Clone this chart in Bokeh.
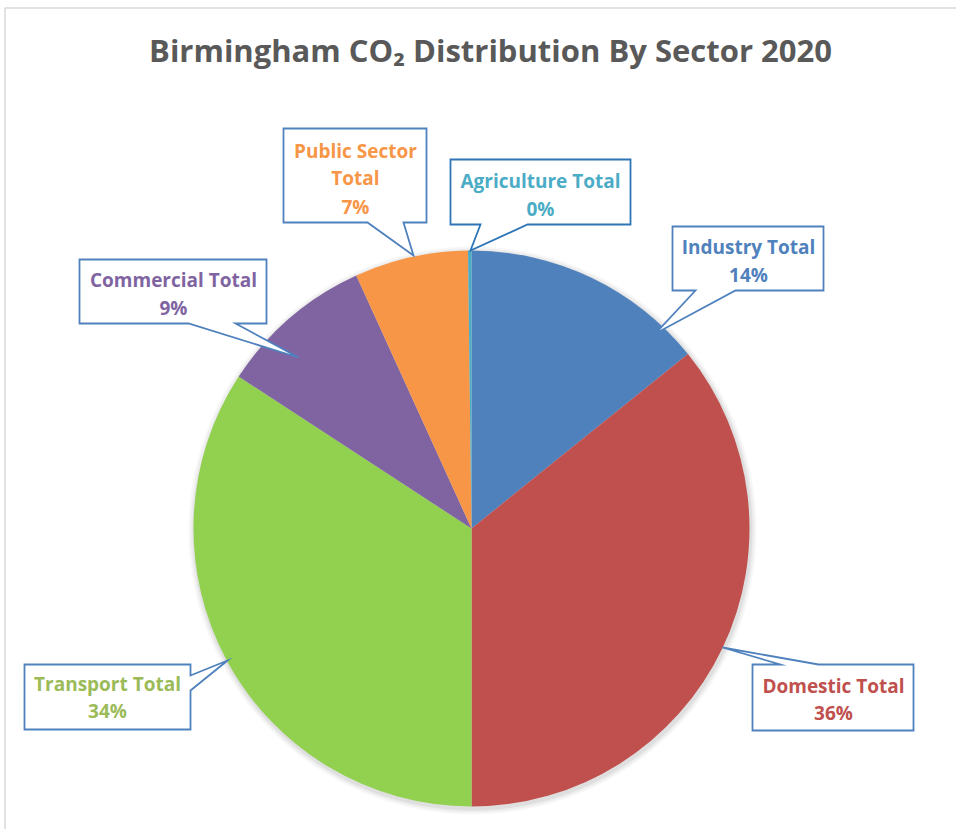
import math
from bokeh.plotting import figure
from bokeh.models import Range1d
from bokeh.core.properties import value
from bokeh.embed import file_html
from bokeh.resources import INLINE

# ---- data ----
sectors = ["Industry Total", "Domestic Total", "Transport Total",
           "Commercial Total", "Public Sector Total", "Agriculture Total"]
shares = [14.2, 35.8, 34.2, 9.0, 6.6, 0.2]
slice_colors = ["#4F81BD", "#C0504D", "#92D050", "#8064A2", "#F79646", "#4BACC6"]
text_colors = ["#4F81BD", "#C0504D", "#9BBB59", "#8064A2", "#F79646", "#4BACC6"]
title_text = "Birmingham CO\u2082 Distribution By Sector 2020"

W, H = 956, 829
IMG_H = 837


def Y(y):
    return IMG_H - y


p = figure(width=W, height=H, output_backend="svg", toolbar_location=None,
           x_range=Range1d(0, W), y_range=Range1d(Y(H), Y(0)),
           min_border=0, background_fill_color="white")
p.axis.visible = False
p.grid.visible = False
p.outline_line_color = None

# chart area border
p.quad(left=[4.5], right=[W + 5], top=[Y(7.5)], bottom=[Y(H + 5)],
       fill_color=None, line_color="#D9D9D9", line_width=1.5)

# title
p.text(x=[490], y=[Y(49)], text=[title_text], text_font=value("Open Sans"),
       text_font_style="bold", text_font_size="31px", text_color="#595959",
       text_align="center", text_baseline="middle")

cx, cy, r = 471, Y(528), 278
total = sum(shares)
starts, ends = [], []
cum = 0.0
for s in shares:
    starts.append(math.pi / 2 - 2 * math.pi * cum / total)
    cum += s
    ends.append(math.pi / 2 - 2 * math.pi * cum / total)

# soft shadow
for k, a in [(6, 0.03), (4, 0.04), (2, 0.06)]:
    p.circle(x=[cx + 1], y=[cy - 2], radius=r + k, fill_color="#000000",
             fill_alpha=a, line_color=None)

p.wedge(x=cx, y=cy, radius=r, start_angle=starts, end_angle=ends,
        direction="clock", fill_color=slice_colors, line_color=None)

# callouts (layout, image coordinates)
callouts = {
    "Industry Total": ([(672, 226), (823, 226), (823, 290), (735, 290), (655, 333), (695, 290), (672, 290)],
                       748, [246, 274], ["Industry Total"]),
    "Domestic Total": ([(752, 664), (780, 664), (722, 647), (818, 664), (913, 664), (913, 730), (752, 730)],
                       833, [685, 712], ["Domestic Total"]),
    "Transport Total": ([(24, 664), (190, 664), (190, 675), (227, 660), (190, 690), (190, 729), (24, 729)],
                        107, [683, 710], ["Transport Total"]),
    "Commercial Total": ([(79, 259), (266, 259), (266, 323), (235, 323), (298, 357), (188, 323), (79, 323)],
                         173, [279, 307], ["Commercial Total"]),
    "Public Sector Total": ([(283, 128), (426, 128), (426, 222), (403, 222), (413, 255), (367, 222), (283, 222)],
                            355, [150, 177, 206], ["Public Sector", "Total"]),
    "Agriculture Total": ([(450, 159), (630, 159), (630, 224), (527, 224), (470, 250), (480, 224), (450, 224)],
                          540, [180, 208], ["Agriculture Total"]),
}

for i, name in enumerate(sectors):
    poly, tx, tys, lines = callouts[name]
    border = "#2E75B6" if name == "Agriculture Total" else "#4F81BD"
    p.patch(x=[q[0] for q in poly], y=[Y(q[1]) for q in poly], fill_color="white",
            line_color=border, line_width=1.8, line_join="miter")
    pct = f"{round(shares[i] / total * 100):d}%"
    texts = lines + [pct]
    p.text(x=[tx] * len(texts), y=[Y(t) for t in tys], text=texts,
           text_font=value("Open Sans"), text_font_style="bold",
           text_font_size="19px", text_color=text_colors[i],
           text_align="center", text_baseline="middle")

open("out.html", "w").write(file_html(p, INLINE))
